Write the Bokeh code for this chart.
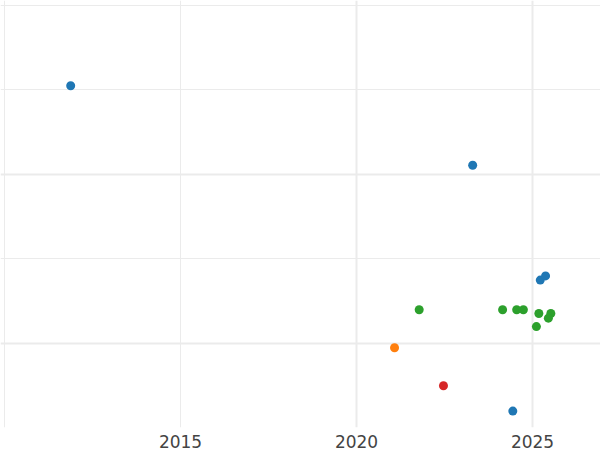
from bokeh.plotting import figure
from bokeh.models import ColumnDataSource, Grid, FixedTicker, Range1d
from bokeh.embed import file_html
from bokeh.resources import INLINE

# Data (y in arbitrary units)
years = [2011.88, 2023.30, 2025.22, 2025.37, 2024.44,
         2021.08,
         2022.47,
         2021.78, 2024.15, 2024.55, 2024.74, 2025.18, 2025.11, 2025.52, 2025.45]
values = [3.05, 2.11, 0.75, 0.80, -0.80,
          -0.05,
          -0.50,
          0.40, 0.40, 0.40, 0.40, 0.355, 0.20, 0.355, 0.30]
groups = ["A", "A", "A", "A", "A",
          "B",
          "C",
          "D", "D", "D", "D", "D", "D", "D", "D"]
group_colors = {"A": "#1f77b4", "B": "#ff7f0e", "C": "#d62728", "D": "#2ca02c"}
x_tick_values = [2015, 2020, 2025]
x_major_grid = [2020, 2025]
x_minor_grid = [2010, 2015]
y_major_grid = [0, 2]
y_minor_grid = [-1, 1, 3, 4]

colors = [group_colors[g] for g in groups]
src = ColumnDataSource(dict(x=years, y=values, c=colors))

p = figure(width=600, height=450, output_backend="svg", toolbar_location=None,
           x_range=Range1d(2009.886, 2026.931), y_range=Range1d(-0.994, 4.059),
           min_border_left=0, min_border_right=0, min_border_top=0, min_border_bottom=0)
p.outline_line_color = None
p.background_fill_color = "white"
p.border_fill_color = "white"

p.xgrid.visible = False
p.ygrid.visible = False
p.yaxis.visible = False

grid_color = "#ebebeb"
for ticks, w in ((x_minor_grid, 1), (x_major_grid, 2)):
    p.add_layout(Grid(dimension=0, ticker=FixedTicker(ticks=ticks),
                      grid_line_color=grid_color, grid_line_width=w))
for ticks, w in ((y_minor_grid, 1), (y_major_grid, 2)):
    p.add_layout(Grid(dimension=1, ticker=FixedTicker(ticks=ticks),
                      grid_line_color=grid_color, grid_line_width=w))

ax = p.xaxis[0]
ax.ticker = FixedTicker(ticks=x_tick_values)
ax.axis_line_color = None
ax.major_tick_line_color = None
ax.minor_tick_line_color = None
ax.major_tick_in = 0
ax.major_tick_out = 0
ax.major_label_text_font = "DejaVu Sans"
ax.major_label_text_font_size = "17px"
ax.major_label_text_color = "#444444"
ax.major_label_standoff = 7

p.scatter("x", "y", source=src, size=9, fill_color="c", line_color="c", line_width=0)

open("out.html", "w").write(file_html(p, INLINE))
